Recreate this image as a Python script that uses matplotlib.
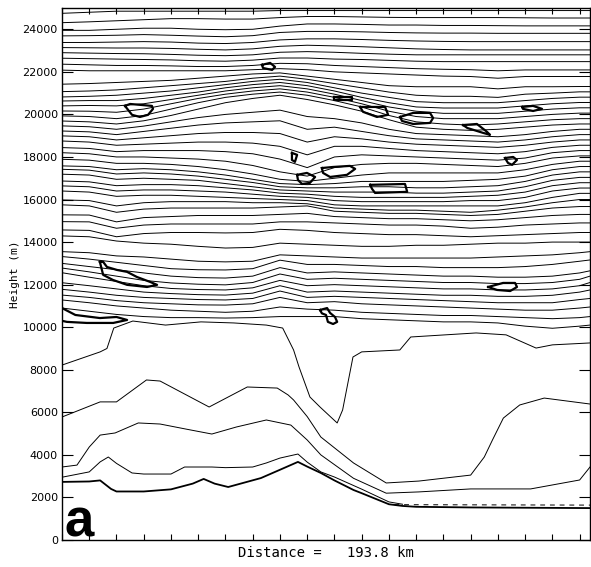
import matplotlib
matplotlib.use('Agg')
import matplotlib.pyplot as plt

# common distance knots (km) for the stratospheric isolines
KM = [0, 10, 20, 30, 40, 50, 60, 70, 80, 90, 100, 110, 120, 130, 140, 150, 160, 170, 180, 190, 193.8]

TOP_LINES = [
    [22080, 22050, 22050, 22050, 22050, 22050, 22050, 22100, 22150, 22100, 22000, 21950, 21900, 21850, 21800, 21780, 21700, 21780, 21780, 21780, 21780],
    [22360, 22330, 22300, 22300, 22280, 22250, 22250, 22300, 22400, 22380, 22300, 22250, 22200, 22150, 22120, 22100, 22050, 22090, 22090, 22090, 22090],
    [22640, 22620, 22600, 22580, 22560, 22520, 22500, 22550, 22650, 22650, 22600, 22580, 22540, 22500, 22480, 22480, 22480, 22480, 22480, 22480, 22480],
    [22900, 22880, 22860, 22850, 22820, 22780, 22760, 22800, 22920, 22950, 22920, 22870, 22830, 22800, 22800, 22800, 22800, 22800, 22800, 22800, 22800],
    [23140, 23130, 23120, 23120, 23100, 23060, 23030, 23080, 23200, 23250, 23220, 23180, 23130, 23080, 23050, 23030, 23030, 23030, 23030, 23030, 23030],
    [23380, 23380, 23400, 23420, 23400, 23350, 23330, 23380, 23500, 23550, 23550, 23520, 23480, 23450, 23430, 23420, 23420, 23420, 23420, 23420, 23420],
    [23690, 23700, 23720, 23750, 23720, 23680, 23650, 23700, 23850, 23900, 23900, 23880, 23850, 23830, 23820, 23820, 23810, 23810, 23810, 23810, 23810],
    [23950, 23950, 24000, 24050, 24050, 24000, 23980, 24000, 24150, 24250, 24250, 24230, 24200, 24200, 24180, 24180, 24170, 24160, 24160, 24160, 24160],
    [24310, 24350, 24400, 24450, 24500, 24500, 24480, 24480, 24550, 24600, 24600, 24580, 24560, 24550, 24550, 24550, 24550, 24540, 24530, 24530, 24530],
    [24750, 24800, 24850, 24850, 24850, 24850, 24850, 24850, 24880, 24880, 24880, 24880, 24880, 24880, 24880, 24880, 24880, 24880, 24880, 24880, 24880],
]

UPPER_LINES = [
    [16400, 16350, 16150, 16200, 16200, 16150, 16100, 16050, 16000, 15950, 15750, 15700, 15700, 15700, 15700, 15700, 15700, 15850, 16100, 16290, 16290],
    [16640, 16600, 16400, 16450, 16450, 16400, 16350, 16250, 16150, 16100, 15950, 15900, 15900, 15900, 15900, 15950, 15950, 16100, 16400, 16540, 16540],
    [16870, 16830, 16650, 16700, 16700, 16650, 16550, 16450, 16300, 16250, 16150, 16100, 16100, 16100, 16100, 16150, 16200, 16350, 16650, 16790, 16790],
    [17190, 17150, 16950, 17000, 16950, 16900, 16750, 16600, 16450, 16400, 16350, 16350, 16350, 16300, 16300, 16350, 16400, 16600, 16900, 17040, 17040],
    [17420, 17380, 17200, 17250, 17200, 17100, 16950, 16800, 16600, 16550, 16550, 16600, 16600, 16550, 16550, 16600, 16650, 16850, 17150, 17300, 17300],
    [17580, 17550, 17400, 17450, 17400, 17300, 17150, 16950, 16750, 16700, 16750, 16850, 16850, 16850, 16850, 16900, 16950, 17100, 17400, 17550, 17550],
    [17890, 17850, 17700, 17700, 17650, 17550, 17400, 17200, 16950, 16850, 17000, 17150, 17250, 17250, 17250, 17250, 17250, 17400, 17650, 17800, 17800],
    [18200, 18150, 18000, 18000, 17950, 17900, 17800, 17600, 17300, 17100, 17500, 17650, 17700, 17700, 17650, 17600, 17550, 17700, 17950, 18050, 18050],
    [18440, 18400, 18250, 18300, 18300, 18300, 18250, 18150, 17900, 17500, 18000, 18100, 18050, 18000, 17950, 17900, 17850, 17950, 18200, 18300, 18300],
    [18750, 18700, 18550, 18600, 18650, 18700, 18700, 18650, 18500, 18100, 18500, 18500, 18400, 18300, 18250, 18200, 18150, 18250, 18450, 18550, 18550],
    [18990, 18950, 18800, 18900, 19000, 19100, 19150, 19150, 19100, 18700, 18950, 18850, 18700, 18600, 18550, 18500, 18450, 18550, 18700, 18800, 18800],
    [19220, 19180, 19050, 19200, 19350, 19500, 19600, 19650, 19700, 19300, 19400, 19200, 19000, 18850, 18800, 18750, 18700, 18800, 18950, 19050, 19050],
    [19460, 19420, 19300, 19450, 19650, 19850, 20000, 20100, 20200, 19900, 19800, 19600, 19300, 19100, 19050, 19000, 18950, 19050, 19200, 19300, 19300],
    [19690, 19650, 19550, 19700, 19950, 20250, 20550, 20750, 20900, 20700, 20450, 20150, 19750, 19400, 19300, 19250, 19300, 19400, 19500, 19550, 19550],
    [19930, 19900, 19800, 19950, 20250, 20550, 20800, 20950, 21050, 20900, 20650, 20350, 19950, 19650, 19550, 19500, 19550, 19650, 19750, 19800, 19800],
    [20160, 20150, 20100, 20250, 20500, 20750, 20950, 21100, 21200, 21050, 20800, 20500, 20150, 19900, 19800, 19800, 19800, 19900, 20000, 20060, 20060],
    [20400, 20420, 20400, 20500, 20700, 20900, 21100, 21250, 21350, 21200, 20950, 20650, 20350, 20150, 20050, 20050, 20050, 20150, 20250, 20310, 20310],
    [20630, 20650, 20650, 20750, 20900, 21050, 21250, 21400, 21500, 21350, 21100, 20800, 20550, 20350, 20300, 20300, 20300, 20400, 20500, 20560, 20560],
    [20820, 20850, 20900, 21000, 21100, 21250, 21400, 21550, 21650, 21500, 21250, 21000, 20800, 20600, 20550, 20550, 20550, 20650, 20750, 20810, 20810],
    [21070, 21100, 21150, 21250, 21350, 21450, 21550, 21700, 21800, 21650, 21450, 21250, 21050, 20900, 20850, 20850, 20800, 20950, 21000, 21060, 21060],
    [21420, 21450, 21500, 21550, 21600, 21700, 21800, 21900, 21950, 21800, 21650, 21500, 21350, 21300, 21300, 21300, 21200, 21300, 21300, 21310, 21310],
]

MID_LINES = [
    [10900, 10750, 10600, 10500, 10450, 10450, 10430, 10450, 10500, 10500, 10500, 10400, 10350, 10300, 10250, 10250, 10200, 10050, 9950, 10050, 10100],
    [11280, 11150, 11000, 10900, 10800, 10750, 10700, 10750, 10950, 10850, 10800, 10700, 10650, 10600, 10550, 10550, 10500, 10450, 10400, 10450, 10500],
    [11510, 11400, 11250, 11150, 11100, 11050, 11040, 11100, 11400, 11150, 11200, 11100, 11050, 11000, 10950, 10900, 10850, 10800, 10800, 10900, 10950],
    [11780, 11650, 11500, 11400, 11350, 11300, 11280, 11350, 11700, 11400, 11450, 11400, 11350, 11300, 11250, 11200, 11150, 11150, 11150, 11300, 11350],
    [12090, 11950, 11800, 11650, 11580, 11530, 11510, 11600, 11950, 11650, 11700, 11650, 11600, 11550, 11500, 11500, 11450, 11450, 11500, 11650, 11750],
    [12560, 12350, 12150, 11950, 11820, 11770, 11750, 11850, 12200, 11950, 12000, 11950, 11900, 11850, 11800, 11800, 11750, 11750, 11800, 11950, 12100],
    [12780, 12600, 12400, 12200, 12080, 12020, 11990, 12100, 12500, 12250, 12300, 12250, 12200, 12150, 12100, 12100, 12050, 12050, 12100, 12250, 12400],
    [13000, 12850, 12700, 12550, 12400, 12330, 12310, 12400, 12800, 12550, 12600, 12550, 12500, 12450, 12400, 12400, 12350, 12350, 12400, 12550, 12650],
    [13320, 13200, 13050, 12900, 12750, 12700, 12690, 12750, 13150, 12950, 12950, 12900, 12850, 12850, 12800, 12800, 12800, 12850, 12950, 13100, 13160],
    [13550, 13500, 13350, 13300, 13200, 13100, 13070, 13100, 13400, 13350, 13300, 13250, 13250, 13250, 13250, 13250, 13300, 13350, 13400, 13500, 13550],
    [14290, 14250, 14050, 13950, 13900, 13800, 13720, 13750, 13950, 13900, 13850, 13800, 13800, 13850, 13850, 13900, 13950, 13950, 14000, 14000, 14000],
    [14570, 14550, 14250, 14400, 14450, 14450, 14430, 14450, 14600, 14550, 14450, 14400, 14350, 14350, 14300, 14250, 14300, 14350, 14400, 14450, 14450],
    [14960, 14950, 14650, 14800, 14850, 14850, 14850, 14850, 14950, 14950, 14900, 14850, 14800, 14800, 14750, 14650, 14700, 14800, 14850, 14900, 14900],
    [15280, 15270, 14950, 15150, 15200, 15250, 15250, 15250, 15300, 15350, 15200, 15150, 15100, 15100, 15050, 15000, 15050, 15150, 15250, 15300, 15300],
    [15750, 15700, 15400, 15550, 15600, 15600, 15600, 15600, 15650, 15700, 15450, 15400, 15350, 15350, 15300, 15250, 15300, 15450, 15600, 15670, 15670],
    [15980, 15950, 15700, 15850, 15900, 15900, 15900, 15850, 15850, 15800, 15600, 15550, 15500, 15500, 15450, 15400, 15500, 15650, 15850, 16000, 16000],
]

# lower isolines, each with its own knots
DIP_KM = [0, 14, 16.5, 19, 26, 38, 51, 63, 75, 81, 85, 87, 91, 94.7, 101, 103, 106.8, 110, 124, 128, 152, 163, 174, 180, 193.8]
DIP_M = [8220, 8840, 9000, 9960, 10290, 10100, 10250, 10200, 10100, 9960, 8930, 8130, 6720, 6250, 5500, 6110, 8600, 8840, 8930, 9540, 9730, 9640, 9020, 9170, 9260]

L4_KM = [0, 14, 20, 31, 36, 54, 68, 79, 83, 85, 90, 95, 107, 119, 131, 150, 155, 158, 162, 168, 177, 193.8]
L4_M = [5780, 6490, 6490, 7520, 7470, 6250, 7190, 7140, 6815, 6580, 5800, 4840, 3620, 2680, 2770, 3050, 3900, 4700, 5730, 6345, 6670, 6390]

L3_KM = [0, 5.5, 10, 14, 19.5, 28, 36, 46, 55, 64, 75, 84, 90, 95, 107, 119, 131, 150, 172, 190, 193, 193.8]
L3_M = [3430, 3520, 4370, 4930, 5030, 5500, 5450, 5200, 4980, 5310, 5640, 5400, 4700, 4000, 2900, 2200, 2260, 2400, 2400, 2820, 3300, 3430]

L2_KM = [0, 10, 14, 17, 20, 25.7, 30, 40, 45, 55, 60, 70, 75, 80, 86.6, 90, 95, 100, 110, 120, 125]
L2_M = [2950, 3200, 3670, 3900, 3600, 3150, 3100, 3100, 3430, 3430, 3400, 3430, 3620, 3850, 4040, 3660, 3200, 2960, 2390, 1790, 1680]

DASH_KM = [122, 193.8]
DASH_M = [1660, 1640]

TERRAIN_KM = [0, 10, 14, 18, 20, 30, 40, 48, 52, 56, 61, 73, 80, 86.6, 90, 95, 100, 107, 110, 120, 125, 130, 150, 193.8]
TERRAIN_M = [2730, 2750, 2800, 2400, 2280, 2280, 2380, 2650, 2870, 2650, 2490, 2910, 3300, 3670, 3450, 3150, 2800, 2350, 2200, 1680, 1600, 1560, 1530, 1500]

# bold closed contours
LOOPS_KM = [
    [0, 4.9, 13.9, 20, 23.9, 18.8, 9.1, 1.8, 0],
    [13.9, 15.1, 16.5, 20.2, 23.9, 27.5, 32.3, 34.9, 31.2, 23.9, 18.7, 15.1, 13.9],
    [23.1, 25, 33, 33.4, 31.6, 28.6, 25.7, 23.1],
    [73.4, 76.4, 78.2, 77.1, 73.8, 73.4],
    [100, 106.5, 106.5, 100, 100],
    [109.4, 118.6, 119.7, 115.6, 110.5, 109.4],
    [124.1, 128.9, 135.1, 136.2, 135.1, 128.9, 124.8, 124.1],
    [147.2, 152.3, 156, 157.1, 154.6, 148.8, 147.2],
    [168.9, 172.9, 176.2, 172.9, 169.2, 168.9],
    [84.4, 86.3, 85.5, 84.4, 84.4],
    [86.3, 89.9, 92.9, 91, 88.1, 86.6, 86.3],
    [95.4, 99.5, 105.7, 107.6, 104.6, 98.4, 95.8, 95.4],
    [113.1, 125.9, 126.7, 114.9, 113.8, 113.1],
    [162.6, 165.6, 167, 165.2, 163.7, 162.6],
    [156.4, 161.9, 166.3, 167, 164.5, 159.7, 156.4],
    [94.7, 97.3, 98.4, 100.2, 101, 99.5, 97.6, 96.9, 95.4, 94.7],
]
LOOPS_M = [
    [10900, 10575, 10430, 10480, 10340, 10200, 10200, 10250, 10300],
    [13070, 13070, 12830, 12690, 12600, 12360, 12130, 11990, 11890, 11990, 12220, 12460, 13070],
    [20400, 20490, 20400, 20260, 19980, 19880, 19980, 20400],
    [22330, 22420, 22230, 22090, 22180, 22330],
    [20800, 20800, 20700, 20700, 20800],
    [20350, 20350, 19980, 19880, 20120, 20350],
    [19880, 20070, 20070, 19830, 19600, 19550, 19690, 19880],
    [19500, 19550, 19180, 19040, 19130, 19360, 19500],
    [20350, 20400, 20260, 20160, 20260, 20350],
    [18190, 18100, 17770, 17860, 18190],
    [17160, 17250, 17060, 16780, 16730, 16920, 17160],
    [17480, 17530, 17580, 17440, 17160, 17060, 17250, 17480],
    [16690, 16730, 16360, 16310, 16500, 16690],
    [17950, 18000, 17860, 17630, 17720, 17950],
    [11890, 12080, 12080, 11890, 11700, 11750, 11890],
    [10810, 10900, 10670, 10480, 10250, 10150, 10250, 10575, 10650, 10810],
]

fig = plt.figure(figsize=(5.91, 5.67), dpi=100)
ax = fig.add_axes([62 / 591, 27 / 567, 528 / 591, 532 / 567])

thin = dict(color='black', lw=0.7)
for row in TOP_LINES + UPPER_LINES + MID_LINES:
    ax.plot(KM, row, **thin)
ax.plot(DIP_KM, DIP_M, **thin)
ax.plot(L4_KM, L4_M, **thin)
ax.plot(L3_KM, L3_M, **thin)
ax.plot(L2_KM, L2_M, **thin)
ax.plot(DASH_KM, DASH_M, color='black', lw=0.7, ls=(0, (5, 5)))
ax.plot(TERRAIN_KM, TERRAIN_M, color='black', lw=1.3)

for xs, hs in zip(LOOPS_KM, LOOPS_M):
    ax.plot(xs, hs, color='black', lw=1.6, solid_joinstyle='round')

ax.set_xlim(0, 193.8)
ax.set_ylim(0, 25000)
ax.set_xticks(range(0, 200, 10))
ax.set_xticklabels([])
ax.set_yticks(range(0, 25000, 2000))
ax.tick_params(axis='y', direction='in', length=8, width=0.8, left=True, right=True,
               labelsize=8, pad=3)
ax.tick_params(axis='x', direction='in', length=4, width=0.8, top=True, bottom=True)
for s in ax.spines.values():
    s.set_linewidth(1.0)

ax.set_xlabel('Distance =   193.8 km', family='DejaVu Sans Mono', fontsize=10, labelpad=1)
ax.set_ylabel('Height (m)', family='DejaVu Sans Mono', fontsize=8, labelpad=2)

ax.text(0.004, 0.006, 'a', transform=ax.transAxes, fontsize=38, fontweight='bold',
        family='Liberation Sans', ha='left', va='baseline')

fig.savefig('out.png', dpi=100)
